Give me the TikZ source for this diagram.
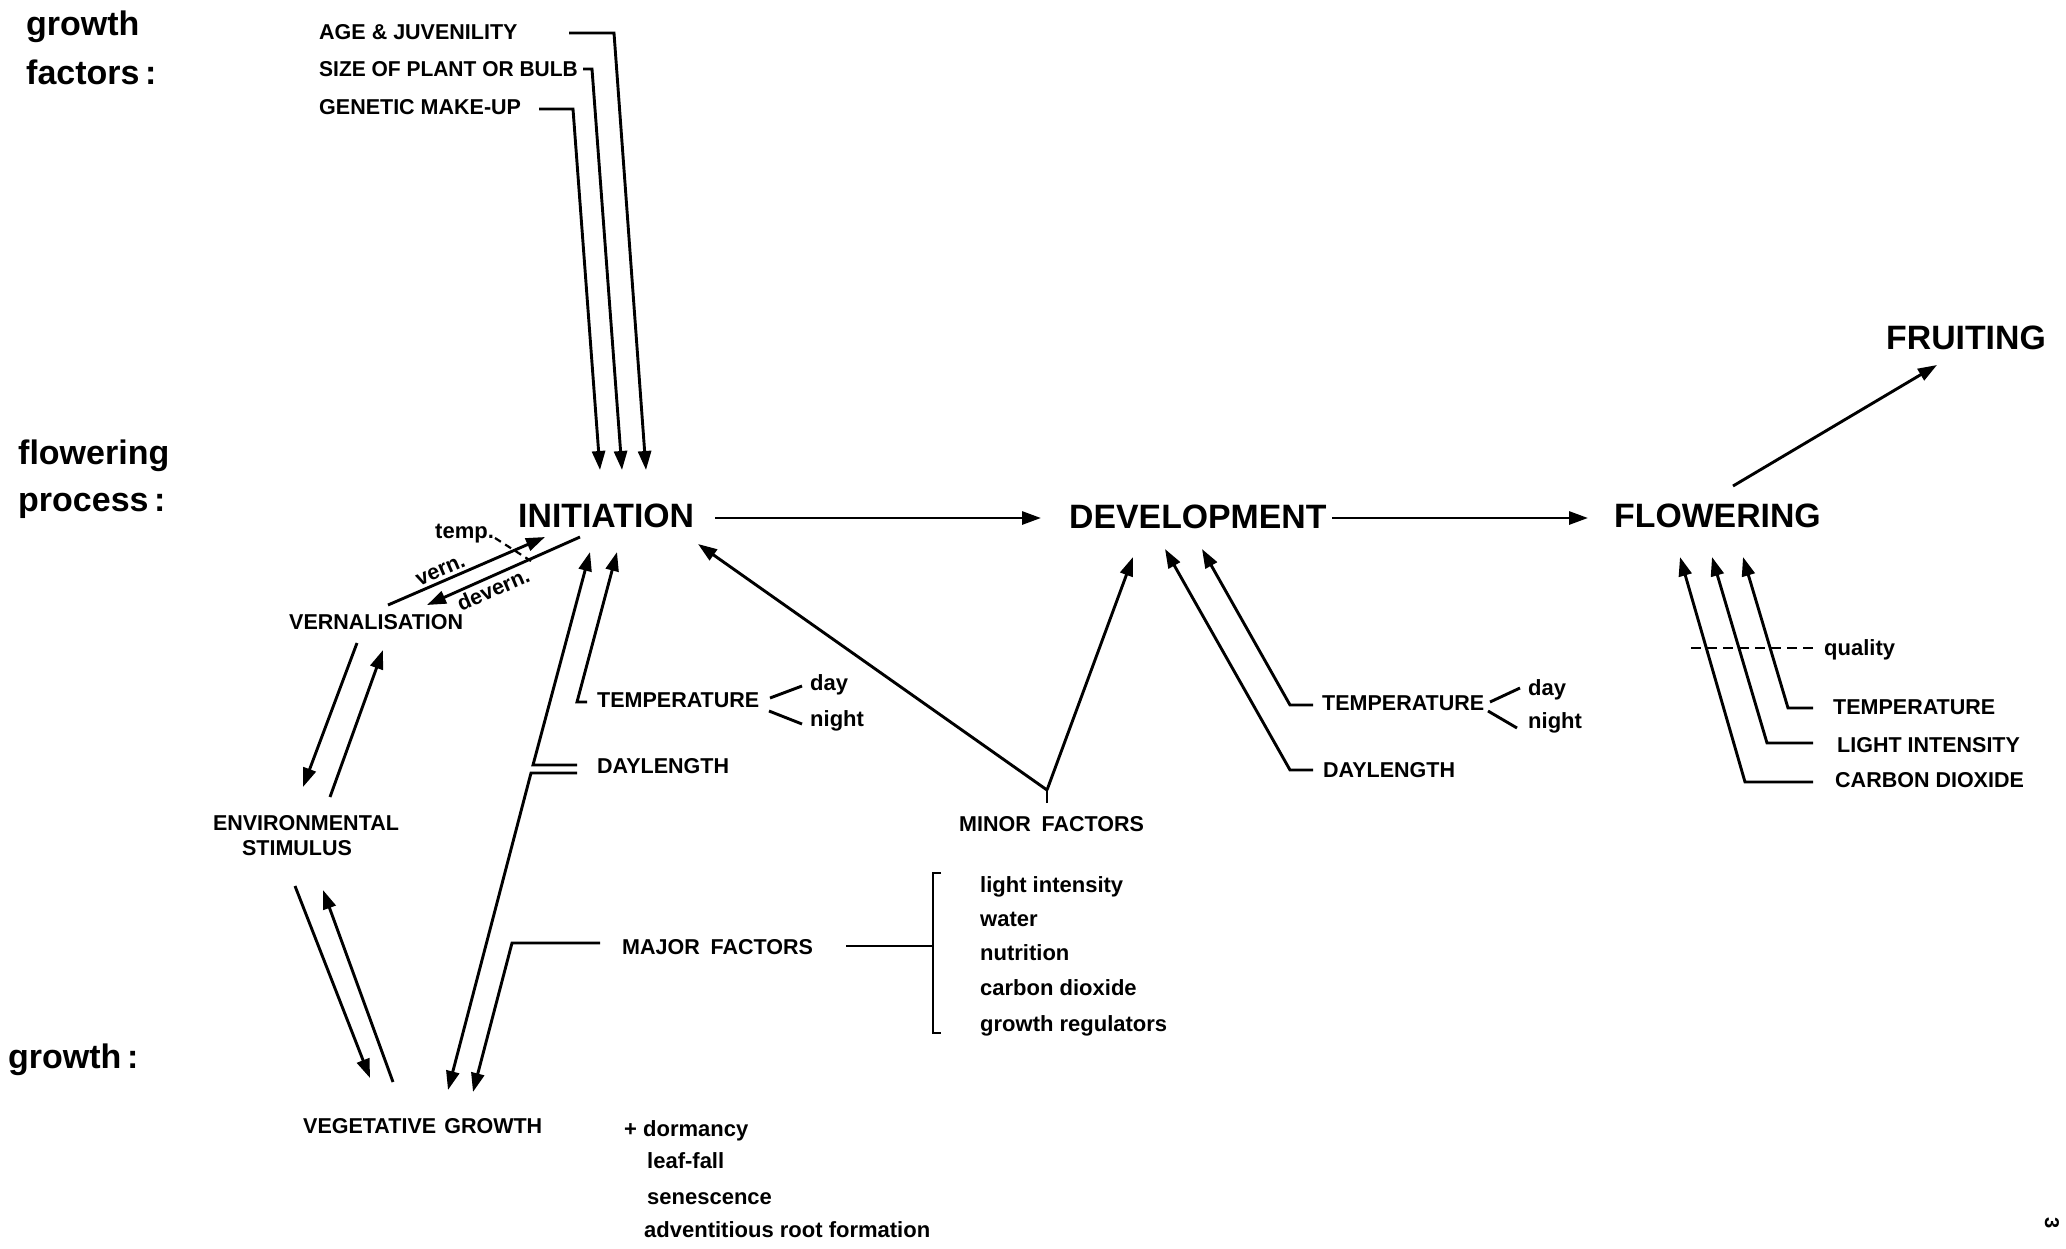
\documentclass[tikz,border=0pt]{standalone}
\usepackage{fontspec}
\usepackage{graphicx}
\setmainfont{Liberation Sans}
\usetikzlibrary{arrows.meta}
\begin{document}
\begin{tikzpicture}[x=1pt,y=-1pt,
  lbl/.style={font=\fontsize{21.5}{26}\selectfont\bfseries, inner sep=0pt, anchor=base west},
  lc/.style={font=\fontsize{22}{26}\selectfont\bfseries, inner sep=0pt, anchor=base west},
  big/.style={font=\fontsize{33.8}{40}\selectfont\bfseries, inner sep=0pt, anchor=base west},
  side/.style={font=\fontsize{34}{40}\selectfont\bfseries, inner sep=0pt, anchor=base west},
  conn/.style={line width=2.9pt, line join=miter},
  arr/.style={conn, -{Triangle[length=19pt,width=13pt]}},
  dashline/.style={line width=2.5pt, dash pattern=on 10pt off 6pt}]
\fill[white] (0,0) rectangle (2066,1248);
\useasboundingbox (0,0) rectangle (2066,1248);

% ---- left headings
\node[side] (gf1) at (26,35) {growth};
\node[side] (gf2) at (26,84) {factors\,:};
\node[side] (fp1) at (18,464) {flowering};
\node[side] (fp2) at (18,511) {process\,:};
\node[side] (gr)  at (8,1068) {growth\,:};

% ---- growth factors
\node[lbl] (age)  at (319,39)  {AGE \& JUVENILITY};
\node[lbl] (size) at (319,76)  {\scalebox{0.975}[1]{SIZE OF PLANT OR BULB}};
\node[lbl] (gen)  at (319,114) {GENETIC MAKE-UP};
\coordinate (ageA) at (569,33);  \coordinate (ageB) at (614,33);  \coordinate (ageT) at (646,470);
\coordinate (sizeA) at (583,69); \coordinate (sizeB) at (592,69); \coordinate (sizeT) at (622,470);
\coordinate (genA) at (539,109); \coordinate (genB) at (573,109); \coordinate (genT) at (600,470);
\draw[arr] (ageA) -- (ageB) -- (ageT);
\draw[arr] (sizeA) -- (sizeB) -- (sizeT);
\draw[arr] (genA) -- (genB) -- (genT);

% ---- main process
\node[big] (init)  at (518,527)  {INITIATION};
\node[big] (dev)   at (1069,528) {DEVELOPMENT};
\node[big] (flow)  at (1614,527) {FLOWERING};
\node[big] (fruit) at (1886,349) {FRUITING};
\coordinate (initR) at (715,518);  \coordinate (devL) at (1041,518);
\coordinate (devR) at (1332,518);  \coordinate (flowL) at (1588,518);
\coordinate (flowU) at (1733,486); \coordinate (fruitD) at (1937,365);
\draw[arr] (initR) -- (devL);
\draw[arr] (devR) -- (flowL);
\draw[arr] (flowU) -- (fruitD);

% ---- vernalisation
\node[lc] (temp) at (435,538) {temp.};
\coordinate (tempA) at (495,538); \coordinate (tempB) at (531,561);
\draw[dashline, line width=2.2pt, dash pattern=on 7pt off 5pt] (tempA) -- (tempB);
\coordinate (vernA) at (388,605); \coordinate (vernB) at (545,537);
\coordinate (devA) at (580,537);  \coordinate (devB) at (427,605);
\draw[arr] (vernA) -- (vernB);
\draw[arr] (devA) -- (devB);
\node[lbl, rotate=23.4, anchor=base] (vern) at (443,576) {vern.};
\node[lbl, rotate=23.4, anchor=north] (devern) at (490,582) {devern.};
\node[lbl] (vernal) at (289,629) {VERNALISATION};

\coordinate (ve1) at (357,643); \coordinate (ve2) at (303,787);
\coordinate (ev1) at (330,797); \coordinate (ev2) at (383,650);
\draw[arr] (ve1) -- (ve2);
\draw[arr] (ev1) -- (ev2);

\node[lbl, anchor=base] (env)  at (306,830) {ENVIRONMENTAL};
\node[lbl, anchor=base] (env2) at (297,855) {STIMULUS};

\coordinate (eg1) at (295,886); \coordinate (eg2) at (370,1078);
\coordinate (ge1) at (393,1082); \coordinate (ge2) at (323,890);
\draw[arr] (eg1) -- (eg2);
\draw[arr] (ge1) -- (ge2);

\node[lbl] (veg) at (303,1133) {VEGETATIVE\hspace{0.1em} GROWTH};

% ---- initiation factors
\node[lbl] (itemp) at (597,707) {TEMPERATURE};
\node[lc] (iday)   at (810,690) {day};
\node[lc] (inight) at (810,726) {night};
\coordinate (ib0) at (770,698); \coordinate (ib1) at (802,686);
\coordinate (ib2) at (769,711); \coordinate (ib3) at (802,724);
\draw[conn] (ib0) -- (ib1);
\draw[conn] (ib2) -- (ib3);
\node[lbl] (idayl) at (597,773) {DAYLENGTH};

\coordinate (it1) at (587,702); \coordinate (it2) at (577,702); \coordinate (it3) at (617,552);
\draw[arr] (it1) -- (it2) -- (it3);
\coordinate (id1) at (577,765); \coordinate (id2) at (533,765); \coordinate (id3) at (590,552);
\draw[arr] (id1) -- (id2) -- (id3);
\coordinate (iv1) at (577,773); \coordinate (iv2) at (531,773); \coordinate (iv3) at (448,1090);
\draw[arr] (iv1) -- (iv2) -- (iv3);

% ---- major factors
\node[lbl] (major) at (622,954) {MAJOR\hspace{0.5em}FACTORS};
\coordinate (mj1) at (600,943); \coordinate (mj2) at (512,943); \coordinate (mj3) at (473,1092);
\draw[arr] (mj1) -- (mj2) -- (mj3);
\coordinate (mr1) at (846,946); \coordinate (br0) at (933,946);
\draw[conn] (mr1) -- (br0);
\coordinate (br1) at (941,873); \coordinate (br2) at (933,873);
\coordinate (br3) at (933,1033); \coordinate (br4) at (941,1033);
\draw[conn] (br1) -- (br2) -- (br3) -- (br4);
\node[lc] (l1) at (980,892)  {light intensity};
\node[lc] (l2) at (980,926)  {water};
\node[lc] (l3) at (980,960)  {nutrition};
\node[lc] (l4) at (980,995)  {carbon dioxide};
\node[lc] (l5) at (980,1031) {growth regulators};

% ---- dormancy list
\node[lc] (d1) at (624,1136) {+ dormancy};
\node[lc] (d2) at (647,1168) {leaf-fall};
\node[lc] (d3) at (647,1204) {senescence};
\node[lc] (d4) at (644,1237) {adventitious root formation};

% ---- minor factors
\node[lbl] (minor) at (959,831) {MINOR\hspace{0.5em}FACTORS};
\coordinate (mn0) at (1047,803); \coordinate (mnJ) at (1047,790);
\coordinate (mnI) at (698,544);  \coordinate (mnD) at (1133,557);
\draw[conn] (mn0) -- (mnJ);
\draw[arr] (mnJ) -- (mnI);
\draw[arr] (mnJ) -- (mnD);

% ---- development factors
\node[lbl] (dtemp) at (1322,710) {TEMPERATURE};
\node[lc] (dday)   at (1528,695) {day};
\node[lc] (dnight) at (1528,728) {night};
\coordinate (db0) at (1490,702); \coordinate (db1) at (1520,688);
\coordinate (db2) at (1488,711); \coordinate (db3) at (1517,728);
\draw[conn] (db0) -- (db1);
\draw[conn] (db2) -- (db3);
\node[lbl] (ddayl) at (1323,777) {DAYLENGTH};
\coordinate (dt1) at (1313,705); \coordinate (dt2) at (1290,705); \coordinate (dt3) at (1202,549);
\draw[arr] (dt1) -- (dt2) -- (dt3);
\coordinate (dd1) at (1313,770); \coordinate (dd2) at (1290,770); \coordinate (dd3) at (1165,549);
\draw[arr] (dd1) -- (dd2) -- (dd3);

% ---- flowering factors
\coordinate (q1) at (1691,648); \coordinate (q2) at (1817,648);
\draw[dashline] (q1) -- (q2);
\node[lc] (qual) at (1824,655) {quality};
\node[lbl] (ftemp)  at (1833,714) {TEMPERATURE};
\node[lbl] (flight) at (1837,752) {LIGHT INTENSITY};
\node[lbl] (fco2)   at (1835,787) {CARBON DIOXIDE};
\coordinate (ft1) at (1813,708); \coordinate (ft2) at (1788,708); \coordinate (ft3) at (1743,557);
\draw[arr] (ft1) -- (ft2) -- (ft3);
\coordinate (fl1) at (1813,743); \coordinate (fl2) at (1767,743); \coordinate (fl3) at (1712,557);
\draw[arr] (fl1) -- (fl2) -- (fl3);
\coordinate (fc1) at (1813,782); \coordinate (fc2) at (1745,782); \coordinate (fc3) at (1680,557);
\draw[arr] (fc1) -- (fc2) -- (fc3);

% ---- page number
\node[font=\fontsize{20}{24}\selectfont\bfseries, rotate=-90, inner sep=0pt] (pg) at (2052,1223) {3};
\end{tikzpicture}
\end{document}
